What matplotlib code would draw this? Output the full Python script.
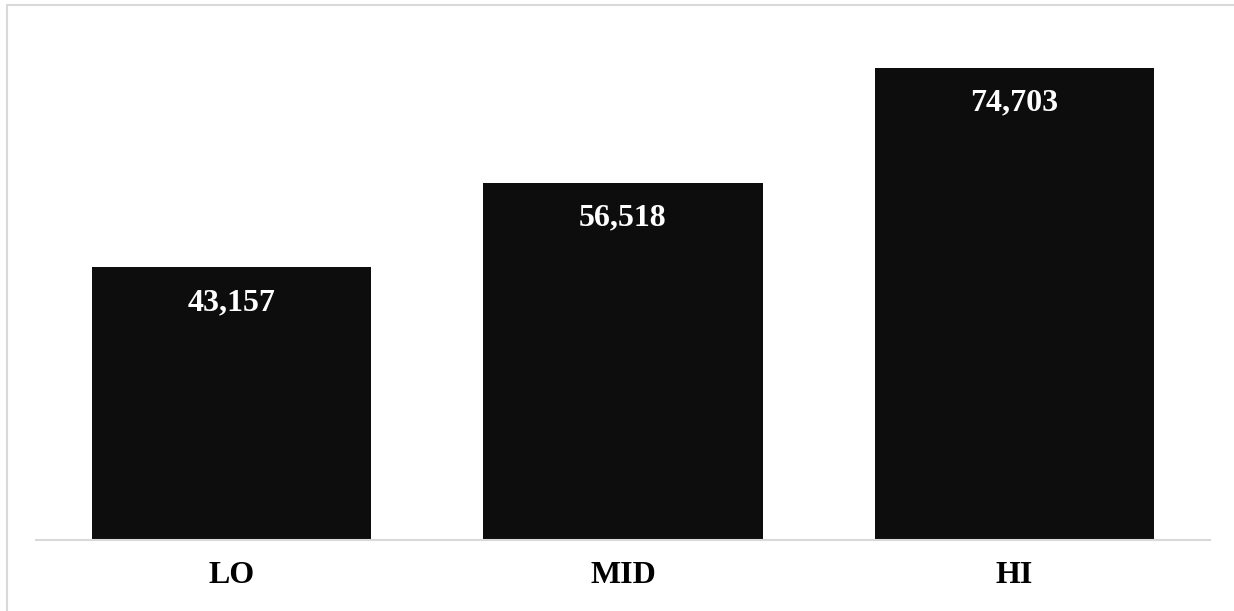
import matplotlib.pyplot as plt
from matplotlib.patches import Rectangle

plt.rcParams["font.family"] = ["Liberation Serif", "DejaVu Serif"]
plt.rcParams["font.weight"] = "bold"

categories = ["LO", "MID", "HI"]
values = [43157, 56518, 74703]

fig = plt.figure(figsize=(12.34, 6.11), dpi=100)
# axes placed to match the reference: baseline at y=540px, spans x=36..1210
W, H = 1234, 611
ax = fig.add_axes([36 / W, (H - 540) / H, (1210 - 36) / W, (540 - 34) / H])

ax.bar(range(len(categories)), values, width=0.714, color="#0d0d0d")

for i, v in enumerate(values):
    ax.annotate(f"{v:,}", xy=(i, v), xytext=(0, -31), textcoords="offset points",
                ha="center", va="baseline", color="white", fontsize=23,
                fontweight="bold")

ax.set_xlim(-0.5, 2.5)
ax.set_ylim(0, 80000)
ax.set_xticks(range(len(categories)))
ax.set_xticklabels(categories, fontsize=23, fontweight="bold")
ax.tick_params(axis="x", length=0, pad=15)
ax.set_yticks([])
for s in ["top", "right", "left"]:
    ax.spines[s].set_visible(False)
ax.spines["bottom"].set_color("#d9d9d9")
ax.spines["bottom"].set_linewidth(1.5)

# light gray outer border (top and left edges visible)
fig.patches.append(Rectangle((7 / W, -0.1), 1.2, (H - 5) / H + 0.1,
                             transform=fig.transFigure, fill=False,
                             edgecolor="#d9d9d9", linewidth=1.5))

fig.savefig("out.png", dpi=100)
